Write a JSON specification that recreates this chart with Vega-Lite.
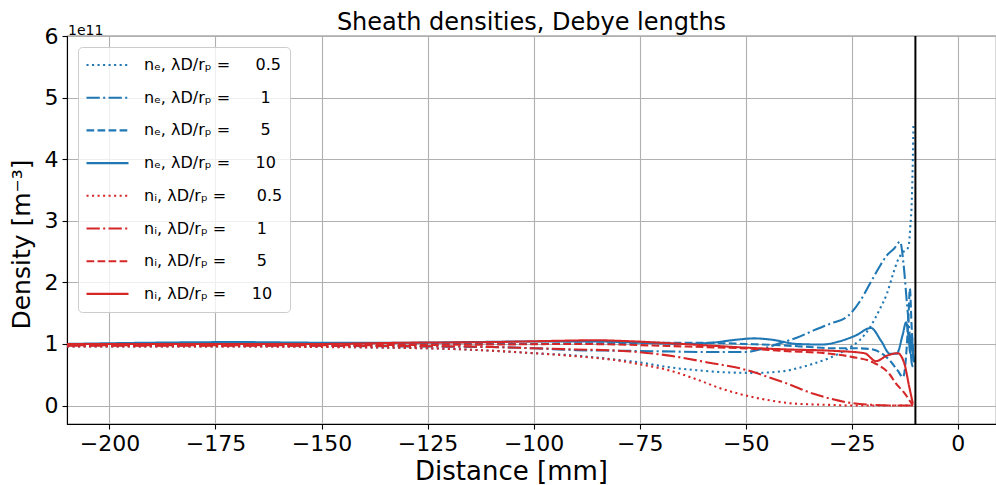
{
  "$schema": "https://vega.github.io/schema/vega-lite/v6.json",
  "width": 929,
  "height": 388,
  "autosize": {"type": "none"},
  "padding": {"left": 67, "top": 36, "right": 0, "bottom": 61},
  "background": "white",
  "title": {"text": "Sheath densities, Debye lengths", "fontSize": 24, "font": "DejaVu Sans", "fontWeight": "normal", "color": "black", "offset": 4, "dy": 15, "anchor": "middle", "frame": "group"},
  "datasets": {
    "curves": [
      {"s": "ne05", "x": -210, "y": 0.96}, {"s": "ne05", "x": -190, "y": 0.96}, {"s": "ne05", "x": -170, "y": 0.96}, {"s": "ne05", "x": -150, "y": 0.955}, {"s": "ne05", "x": -135, "y": 0.94}, {"s": "ne05", "x": -120, "y": 0.92}, {"s": "ne05", "x": -110, "y": 0.89}, {"s": "ne05", "x": -100, "y": 0.85}, {"s": "ne05", "x": -90, "y": 0.81}, {"s": "ne05", "x": -80, "y": 0.74}, {"s": "ne05", "x": -75, "y": 0.70}, {"s": "ne05", "x": -68, "y": 0.62}, {"s": "ne05", "x": -61, "y": 0.57}, {"s": "ne05", "x": -55, "y": 0.54}, {"s": "ne05", "x": -48, "y": 0.53}, {"s": "ne05", "x": -44, "y": 0.54}, {"s": "ne05", "x": -40, "y": 0.57}, {"s": "ne05", "x": -37, "y": 0.62}, {"s": "ne05", "x": -34, "y": 0.68}, {"s": "ne05", "x": -30, "y": 0.78}, {"s": "ne05", "x": -26, "y": 0.92}, {"s": "ne05", "x": -23, "y": 1.07}, {"s": "ne05", "x": -20.7, "y": 1.27}, {"s": "ne05", "x": -18.5, "y": 1.55}, {"s": "ne05", "x": -16.7, "y": 1.82}, {"s": "ne05", "x": -15.2, "y": 2.15}, {"s": "ne05", "x": -14.2, "y": 2.35}, {"s": "ne05", "x": -13.2, "y": 2.47}, {"s": "ne05", "x": -11.65, "y": 2.57}, {"s": "ne05", "x": -11.2, "y": 2.9}, {"s": "ne05", "x": -10.85, "y": 3.33}, {"s": "ne05", "x": -10.6, "y": 4.0}, {"s": "ne05", "x": -10.45, "y": 4.58},

      {"s": "ne1", "x": -210, "y": 0.98}, {"s": "ne1", "x": -170, "y": 0.98}, {"s": "ne1", "x": -150, "y": 0.97}, {"s": "ne1", "x": -130, "y": 0.96}, {"s": "ne1", "x": -110, "y": 0.95}, {"s": "ne1", "x": -100, "y": 0.93}, {"s": "ne1", "x": -90, "y": 0.90}, {"s": "ne1", "x": -80, "y": 0.89}, {"s": "ne1", "x": -70, "y": 0.88}, {"s": "ne1", "x": -60, "y": 0.87}, {"s": "ne1", "x": -50, "y": 0.87}, {"s": "ne1", "x": -46, "y": 0.92}, {"s": "ne1", "x": -42, "y": 1.01}, {"s": "ne1", "x": -38, "y": 1.10}, {"s": "ne1", "x": -34, "y": 1.22}, {"s": "ne1", "x": -30, "y": 1.33}, {"s": "ne1", "x": -25.8, "y": 1.46}, {"s": "ne1", "x": -23, "y": 1.70}, {"s": "ne1", "x": -20.7, "y": 1.98}, {"s": "ne1", "x": -18.5, "y": 2.25}, {"s": "ne1", "x": -16.7, "y": 2.44}, {"s": "ne1", "x": -15, "y": 2.55}, {"s": "ne1", "x": -13.6, "y": 2.66}, {"s": "ne1", "x": -12.8, "y": 2.3}, {"s": "ne1", "x": -12, "y": 1.66}, {"s": "ne1", "x": -11.4, "y": 1.2}, {"s": "ne1", "x": -10.85, "y": 0.68}, {"s": "ne1", "x": -10.5, "y": 0.62},

      {"s": "ne5", "x": -210, "y": 0.99}, {"s": "ne5", "x": -170, "y": 0.99}, {"s": "ne5", "x": -150, "y": 1.0}, {"s": "ne5", "x": -120, "y": 1.0}, {"s": "ne5", "x": -100, "y": 1.0}, {"s": "ne5", "x": -90, "y": 1.01}, {"s": "ne5", "x": -80, "y": 1.01}, {"s": "ne5", "x": -70, "y": 1.02}, {"s": "ne5", "x": -60, "y": 1.02}, {"s": "ne5", "x": -50, "y": 1.0}, {"s": "ne5", "x": -42, "y": 0.98}, {"s": "ne5", "x": -35, "y": 0.95}, {"s": "ne5", "x": -30, "y": 0.93}, {"s": "ne5", "x": -24, "y": 0.93}, {"s": "ne5", "x": -21, "y": 0.92}, {"s": "ne5", "x": -18, "y": 0.85}, {"s": "ne5", "x": -16, "y": 0.73}, {"s": "ne5", "x": -14.2, "y": 0.57}, {"s": "ne5", "x": -12.9, "y": 0.46}, {"s": "ne5", "x": -12.2, "y": 0.8}, {"s": "ne5", "x": -11.6, "y": 1.5}, {"s": "ne5", "x": -11.3, "y": 1.9}, {"s": "ne5", "x": -10.9, "y": 1.3}, {"s": "ne5", "x": -10.5, "y": 0.85}, {"s": "ne5", "x": -10.3, "y": 0.7},

      {"s": "ne10", "x": -210, "y": 1.0}, {"s": "ne10", "x": -190, "y": 1.02}, {"s": "ne10", "x": -170, "y": 1.03}, {"s": "ne10", "x": -150, "y": 1.02}, {"s": "ne10", "x": -130, "y": 1.02}, {"s": "ne10", "x": -115, "y": 1.03}, {"s": "ne10", "x": -100, "y": 1.04}, {"s": "ne10", "x": -85, "y": 1.04}, {"s": "ne10", "x": -75, "y": 1.02}, {"s": "ne10", "x": -65, "y": 1.0}, {"s": "ne10", "x": -58, "y": 1.02}, {"s": "ne10", "x": -52, "y": 1.07}, {"s": "ne10", "x": -48, "y": 1.09}, {"s": "ne10", "x": -44, "y": 1.07}, {"s": "ne10", "x": -38, "y": 1.0}, {"s": "ne10", "x": -32, "y": 0.99}, {"s": "ne10", "x": -28, "y": 1.04}, {"s": "ne10", "x": -24, "y": 1.14}, {"s": "ne10", "x": -20.5, "y": 1.26}, {"s": "ne10", "x": -18, "y": 1.04}, {"s": "ne10", "x": -16, "y": 0.84}, {"s": "ne10", "x": -14.4, "y": 0.84}, {"s": "ne10", "x": -13, "y": 1.15}, {"s": "ne10", "x": -12.2, "y": 1.35}, {"s": "ne10", "x": -11.6, "y": 1.1}, {"s": "ne10", "x": -11.2, "y": 0.85}, {"s": "ne10", "x": -10.9, "y": 1.15}, {"s": "ne10", "x": -10.5, "y": 0.72},

      {"s": "ni05", "x": -210, "y": 0.96}, {"s": "ni05", "x": -190, "y": 0.96}, {"s": "ni05", "x": -170, "y": 0.96}, {"s": "ni05", "x": -150, "y": 0.95}, {"s": "ni05", "x": -135, "y": 0.94}, {"s": "ni05", "x": -120, "y": 0.92}, {"s": "ni05", "x": -110, "y": 0.89}, {"s": "ni05", "x": -100, "y": 0.85}, {"s": "ni05", "x": -90, "y": 0.80}, {"s": "ni05", "x": -80, "y": 0.73}, {"s": "ni05", "x": -75, "y": 0.67}, {"s": "ni05", "x": -68, "y": 0.57}, {"s": "ni05", "x": -61, "y": 0.41}, {"s": "ni05", "x": -56, "y": 0.28}, {"s": "ni05", "x": -51, "y": 0.18}, {"s": "ni05", "x": -44, "y": 0.08}, {"s": "ni05", "x": -40, "y": 0.04}, {"s": "ni05", "x": -35, "y": 0.02}, {"s": "ni05", "x": -30, "y": 0.01}, {"s": "ni05", "x": -25, "y": 0.0}, {"s": "ni05", "x": -10.5, "y": 0.0},

      {"s": "ni1", "x": -210, "y": 0.97}, {"s": "ni1", "x": -170, "y": 0.97}, {"s": "ni1", "x": -150, "y": 0.97}, {"s": "ni1", "x": -120, "y": 0.96}, {"s": "ni1", "x": -110, "y": 0.95}, {"s": "ni1", "x": -100, "y": 0.93}, {"s": "ni1", "x": -90, "y": 0.91}, {"s": "ni1", "x": -80, "y": 0.89}, {"s": "ni1", "x": -68, "y": 0.81}, {"s": "ni1", "x": -59, "y": 0.70}, {"s": "ni1", "x": -50, "y": 0.58}, {"s": "ni1", "x": -45, "y": 0.47}, {"s": "ni1", "x": -40, "y": 0.35}, {"s": "ni1", "x": -34, "y": 0.19}, {"s": "ni1", "x": -30, "y": 0.11}, {"s": "ni1", "x": -26, "y": 0.05}, {"s": "ni1", "x": -20, "y": 0.01}, {"s": "ni1", "x": -15, "y": 0.0}, {"s": "ni1", "x": -10.5, "y": 0.0},

      {"s": "ni5", "x": -210, "y": 0.98}, {"s": "ni5", "x": -170, "y": 0.98}, {"s": "ni5", "x": -150, "y": 0.98}, {"s": "ni5", "x": -110, "y": 0.99}, {"s": "ni5", "x": -90, "y": 1.0}, {"s": "ni5", "x": -80, "y": 0.99}, {"s": "ni5", "x": -70, "y": 0.97}, {"s": "ni5", "x": -60, "y": 0.95}, {"s": "ni5", "x": -48, "y": 0.92}, {"s": "ni5", "x": -42, "y": 0.89}, {"s": "ni5", "x": -30, "y": 0.84}, {"s": "ni5", "x": -25, "y": 0.79}, {"s": "ni5", "x": -20, "y": 0.70}, {"s": "ni5", "x": -16, "y": 0.50}, {"s": "ni5", "x": -14.6, "y": 0.36}, {"s": "ni5", "x": -12.8, "y": 0.22}, {"s": "ni5", "x": -10.6, "y": 0.0},

      {"s": "ni10", "x": -210, "y": 1.0}, {"s": "ni10", "x": -170, "y": 1.0}, {"s": "ni10", "x": -150, "y": 1.0}, {"s": "ni10", "x": -130, "y": 1.02}, {"s": "ni10", "x": -110, "y": 1.03}, {"s": "ni10", "x": -95, "y": 1.05}, {"s": "ni10", "x": -85, "y": 1.06}, {"s": "ni10", "x": -79.6, "y": 1.05}, {"s": "ni10", "x": -70, "y": 1.02}, {"s": "ni10", "x": -60, "y": 0.98}, {"s": "ni10", "x": -50, "y": 0.94}, {"s": "ni10", "x": -40, "y": 0.91}, {"s": "ni10", "x": -30, "y": 0.89}, {"s": "ni10", "x": -22, "y": 0.85}, {"s": "ni10", "x": -19.3, "y": 0.72}, {"s": "ni10", "x": -16.7, "y": 0.81}, {"s": "ni10", "x": -14.2, "y": 0.85}, {"s": "ni10", "x": -12.6, "y": 0.68}, {"s": "ni10", "x": -11.5, "y": 0.32}, {"s": "ni10", "x": -10.6, "y": 0.03}
    ],
    "wall": [{"x": -10}],
    "offsetText": [{"x": -210, "y": 6, "t": "1e11"}]
  },
  "config": {
    "view": {"stroke": "black", "strokeWidth": 1.1},
    "font": "DejaVu Sans",
    "axis": {
      "gridColor": "#b0b0b0", "gridWidth": 1.1, "gridOpacity": 1,
      "domainColor": "black", "domainWidth": 1.1,
      "tickColor": "black", "tickWidth": 1.1, "tickSize": 5,
      "labelFont": "DejaVu Sans", "labelFontSize": 22, "labelColor": "black", "labelPadding": 4,
      "titleFont": "DejaVu Sans", "titleFontSize": 25, "titleFontWeight": "normal", "titleColor": "black"
    },
    "legend": {
      "orient": "top-left", "offset": 11, "symbolType": "stroke", "symbolSize": 1764, "symbolStrokeWidth": 2.08,
      "labelFont": "DejaVu Sans", "labelFontSize": 16, "labelColor": "black", "labelOffset": 14,
      "padding": 7, "strokeColor": "#cccccc", "fillColor": "rgba(255,255,255,0.8)", "cornerRadius": 4,
      "rowPadding": 10.7, "clipHeight": 22, "labelLimit": 300
    }
  },
  "layer": [
    {
      "data": {"name": "curves"},
      "mark": {"type": "line", "strokeWidth": 2.08, "interpolate": "monotone", "clip": true},
      "encoding": {
        "x": {"field": "x", "type": "quantitative", "scale": {"domain": [-210, 9], "nice": false, "zero": false},
              "axis": {"values": [-200, -175, -150, -125, -100, -75, -50, -25, 0], "format": "d", "title": "Distance [mm]", "titleFontSize": 26, "titlePadding": 4, "titleX": 444}},
        "y": {"field": "y", "type": "quantitative", "scale": {"domain": [-0.3, 6], "nice": false, "zero": false},
              "axis": {"values": [0, 1, 2, 3, 4, 5, 6], "format": "d", "title": "Density [m⁻³]", "titlePadding": 10, "titleY": 208}},
        "color": {"field": "s", "type": "nominal", "title": null,
                  "scale": {"domain": ["ne05", "ne1", "ne5", "ne10", "ni05", "ni1", "ni5", "ni10"],
                            "range": ["#1f77b4", "#1f77b4", "#1f77b4", "#1f77b4", "#d62728", "#d62728", "#d62728", "#d62728"]},
                  "legend": {"labelExpr": "{'ne05': 'nₑ, λD/rₚ = \u00a0\u00a0\u00a0\u00a00.5', 'ne1': 'nₑ, λD/rₚ = \u00a0\u00a0\u00a0\u00a0\u00a01', 'ne5': 'nₑ, λD/rₚ = \u00a0\u00a0\u00a0\u00a0\u00a05', 'ne10': 'nₑ, λD/rₚ = \u00a0\u00a0\u00a0\u00a010', 'ni05': 'nᵢ, λD/rₚ = \u00a0\u00a0\u00a0\u00a0\u00a00.5', 'ni1': 'nᵢ, λD/rₚ = \u00a0\u00a0\u00a0\u00a0\u00a01', 'ni5': 'nᵢ, λD/rₚ = \u00a0\u00a0\u00a0\u00a0\u00a05', 'ni10': 'nᵢ, λD/rₚ = \u00a0\u00a0\u00a0\u00a010'}[datum.value]"}},
        "strokeDash": {"field": "s", "type": "nominal", "title": null,
                  "scale": {"domain": ["ne05", "ne1", "ne5", "ne10", "ni05", "ni1", "ni5", "ni10"],
                            "range": [[2.08, 3.44], [13.3, 3.33, 2.08, 3.33], [7.7, 3.33], [1, 0], [2.08, 3.44], [13.3, 3.33, 2.08, 3.33], [7.7, 3.33], [1, 0]]},
                  "legend": {"labelExpr": "{'ne05': 'nₑ, λD/rₚ = \u00a0\u00a0\u00a0\u00a00.5', 'ne1': 'nₑ, λD/rₚ = \u00a0\u00a0\u00a0\u00a0\u00a01', 'ne5': 'nₑ, λD/rₚ = \u00a0\u00a0\u00a0\u00a0\u00a05', 'ne10': 'nₑ, λD/rₚ = \u00a0\u00a0\u00a0\u00a010', 'ni05': 'nᵢ, λD/rₚ = \u00a0\u00a0\u00a0\u00a0\u00a00.5', 'ni1': 'nᵢ, λD/rₚ = \u00a0\u00a0\u00a0\u00a0\u00a01', 'ni5': 'nᵢ, λD/rₚ = \u00a0\u00a0\u00a0\u00a0\u00a05', 'ni10': 'nᵢ, λD/rₚ = \u00a0\u00a0\u00a0\u00a010'}[datum.value]"}}
      }
    },
    {
      "data": {"name": "wall"},
      "mark": {"type": "rule", "color": "black", "strokeWidth": 2},
      "encoding": {"x": {"field": "x", "type": "quantitative"}}
    },
    {
      "data": {"name": "offsetText"},
      "mark": {"type": "text", "align": "left", "baseline": "alphabetic", "dy": -1, "dx": 1, "fontSize": 14, "font": "DejaVu Sans", "color": "black"},
      "encoding": {"x": {"field": "x", "type": "quantitative"}, "y": {"field": "y", "type": "quantitative"}, "text": {"field": "t"}}
    }
  ]
}
